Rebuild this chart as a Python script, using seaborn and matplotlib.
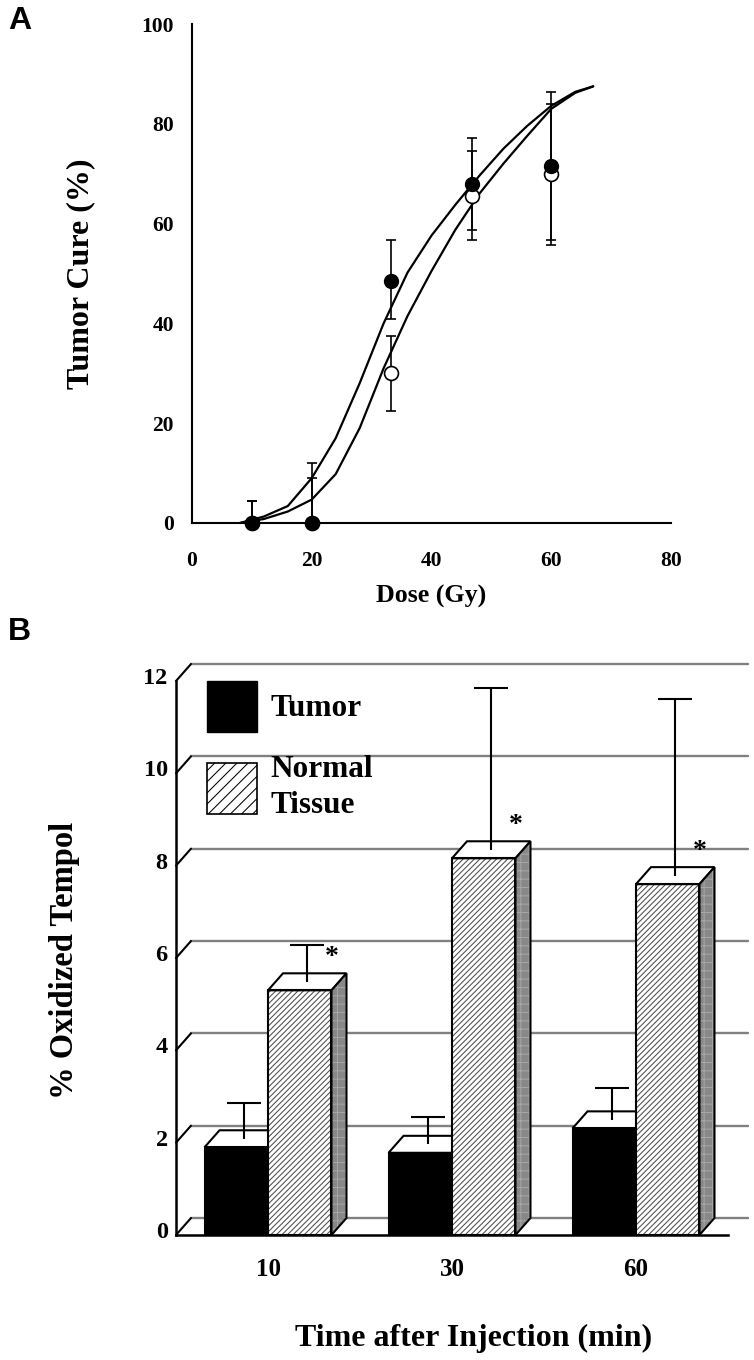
import matplotlib
matplotlib.use('Agg')
import matplotlib.pyplot as plt
from matplotlib.patches import Polygon, Rectangle, Patch
from matplotlib.ticker import MultipleLocator
from matplotlib.transforms import ScaledTranslation
import pandas as pd
import seaborn as sns

# ---------------- Panel A data ----------------
dose = [10, 20, 33.3, 46.7, 60]
cure_filled = [0, 0, 48.5, 68, 71.5]
filled_err_low = [0, 0, 7.6, 9.2, 14.8]
filled_err_high = [4.4, 12, 8.2, 9.1, 14.9]
cure_open = [0, 0, 30, 65.5, 70]
open_err_low = [0, 0, 7.5, 8.8, 14.2]
open_err_high = [4.4, 9, 7.4, 9, 14]

fit_dose = [8, 12, 16, 20, 24, 28, 32, 36, 40, 44, 48, 52, 56, 60, 64, 67]
fit_filled = [0, 1.3, 3.4, 9.0, 17.0, 28.0, 40.0, 50.2, 57.6, 63.8, 69.6, 75.0, 79.6, 83.6, 86.4, 87.5]
fit_open = [0, 0.8, 2.3, 4.7, 9.8, 19.0, 31.0, 41.5, 50.5, 58.8, 66.0, 72.0, 77.6, 83.0, 86.2, 87.5]

# ---------------- Panel B data ----------------
times = ['10', '30', '60']
groups = ['Tumor', 'Normal\nTissue']
tumor_pct = [1.9, 1.78, 2.31]
tumor_sd = [0.77, 0.6, 0.68]
normal_pct = [5.3, 8.16, 7.6]
normal_sd = [0.8, 3.5, 3.82]
yticks_b = [0, 2, 4, 6, 8, 10, 12]

sns.set_style('white')
plt.rcParams['font.family'] = ['Liberation Serif', 'DejaVu Serif']
plt.rcParams['font.weight'] = 'bold'
plt.rcParams['text.color'] = 'black'
plt.rcParams['axes.labelcolor'] = 'black'
plt.rcParams['xtick.color'] = 'black'
plt.rcParams['ytick.color'] = 'black'
plt.rcParams['hatch.linewidth'] = 0.75

W, H = 754, 1360
fig = plt.figure(figsize=(W / 100, H / 100), dpi=100)


def px_axes(l, t, r, b):
    return fig.add_axes([l / W, 1 - b / H, (r - l) / W, (b - t) / H])


axA = px_axes(192, 24, 671, 523)
axB = px_axes(176, 681, 728, 1235)

# ================= Panel A =================
sns.lineplot(x=fit_dose, y=fit_filled, sort=False, estimator=None, color='black', lw=1.6, ax=axA, zorder=2)
sns.lineplot(x=fit_dose, y=fit_open, sort=False, estimator=None, color='black', lw=1.6, ax=axA, zorder=2)

axA.errorbar(dose, cure_open, yerr=[open_err_low, open_err_high], fmt='none', ecolor='black',
             elinewidth=1.2, capsize=3.5, capthick=1.2, clip_on=False, zorder=3)
axA.errorbar(dose, cure_filled, yerr=[filled_err_low, filled_err_high], fmt='none', ecolor='black',
             elinewidth=1.2, capsize=3.5, capthick=1.2, clip_on=False, zorder=3)
sns.scatterplot(x=dose, y=cure_open, marker='o', s=100, facecolor='white', edgecolor='black',
                linewidth=1.2, ax=axA, zorder=4, clip_on=False)
sns.scatterplot(x=dose, y=cure_filled, marker='o', s=100, color='black', edgecolor='black',
                linewidth=1.0, ax=axA, zorder=5, clip_on=False)

axA.set_xlim(0, 80)
axA.set_ylim(0, 100)
axA.xaxis.set_major_locator(MultipleLocator(20))
axA.xaxis.set_minor_locator(MultipleLocator(10))
axA.yaxis.set_major_locator(MultipleLocator(20))
axA.yaxis.set_minor_locator(MultipleLocator(10))
axA.tick_params(which='both', direction='in', length=5, width=1.3, color='black')
axA.tick_params(axis='y', labelsize=15.5, pad=13)
axA.tick_params(axis='x', labelsize=15.5, pad=20.5)
for s in ['top', 'right']:
    axA.spines[s].set_visible(False)
for s in ['left', 'bottom']:
    axA.spines[s].set_linewidth(1.5)
    axA.spines[s].set_color('black')
axA.set_xlabel('Dose (Gy)', fontsize=18.7, fontweight='bold')
axA.xaxis.set_label_coords(0.5, -0.124)
axA.set_ylabel('Tumor Cure (%)', fontsize=23, fontweight='bold')
axA.yaxis.set_label_coords(-0.203, 0.5)

# ================= Panel B =================
dfB = pd.DataFrame({
    'time': times * 2,
    'group': [groups[0]] * len(times) + [groups[1]] * len(times),
    'pct': tumor_pct + normal_pct,
})
sns.barplot(data=dfB, x='time', y='pct', hue='group', order=times, hue_order=groups,
            palette=['black', 'white'], width=0.69, gap=0, errorbar=None, legend=False,
            ax=axB, zorder=2)
axB.set_xlim(-0.5, 2.5)
axB.set_ylim(0, 12)

bbox = axB.get_position()
x0l, x1l = axB.get_xlim()
y0l, y1l = axB.get_ylim()
dx = 15 * (x1l - x0l) / (bbox.width * W)
dy = 17 * (y1l - y0l) / (bbox.height * H)

for v in yticks_b:
    axB.plot([x0l + dx, x1l + 1.3 * dx], [v + dy, v + dy], color='#808080', lw=1.7, zorder=0.5, clip_on=False)
    axB.plot([x0l, x0l + dx], [v, v + dy], color='black', lw=1.5, zorder=1, clip_on=False)

for container, sds, z, is_normal in [(axB.containers[0], tumor_sd, 2, False),
                                     (axB.containers[1], normal_sd, 3, True)]:
    for bar, sd in zip(container, sds):
        x = bar.get_x()
        w = bar.get_width()
        h = bar.get_height()
        bar.set_zorder(z)
        if is_normal:
            bar.set_hatch('//////')
            bar.set_edgecolor('#4d4d4d')
            bar.set_linewidth(0)
        else:
            bar.set_edgecolor('black')
            bar.set_linewidth(1.2)
        axB.add_patch(Rectangle((x, 0), w, h, fill=False, ec='black', lw=1.5, zorder=z + 0.1))
        axB.add_patch(Polygon([(x, h), (x + w, h), (x + w + dx, h + dy), (x + dx, h + dy)],
                              closed=True, fc='white', ec='black', lw=1.5, zorder=z, clip_on=False))
        side = [(x + w, 0), (x + w + dx, dy), (x + w + dx, h + dy), (x + w, h)]
        axB.add_patch(Polygon(side, closed=True, fc='#888888', ec='#a6a6a6', lw=0, hatch='++',
                              zorder=z, clip_on=False))
        axB.add_patch(Polygon(side, closed=True, fill=False, ec='black', lw=1.5, zorder=z + 0.1,
                              clip_on=False))
        eb = axB.errorbar([x + w / 2 + dx / 2], [h + dy / 2], yerr=[[0], [sd]], fmt='none', ecolor='black',
                          elinewidth=1.5, capsize=12, capthick=1.5, zorder=6, clip_on=False)
        caps = eb.lines[1]
        if len(caps) == 2:
            low = min(caps, key=lambda c: float(c.get_ydata()[0]))
            low.set_visible(False)
        if is_normal:
            axB.text(x + w, h + 0.56, '*', ha='center', va='baseline', fontsize=20, fontweight='bold',
                     zorder=7)

for s in ['top', 'right']:
    axB.spines[s].set_visible(False)
for s in ['left', 'bottom']:
    axB.spines[s].set_linewidth(1.8)
    axB.spines[s].set_color('black')
    axB.spines[s].set_zorder(4)

axB.set_yticks(yticks_b)
axB.tick_params(axis='y', length=0, pad=6, labelsize=17.5)
axB.tick_params(axis='x', length=0, pad=16.5, labelsize=18)
lift = ScaledTranslation(0, 5 / 100, fig.dpi_scale_trans)
for lbl in axB.get_yticklabels():
    lbl.set_transform(lbl.get_transform() + lift)
axB.set_xlabel('Time after Injection (min)', fontsize=23, fontweight='bold')
axB.xaxis.set_label_coords(0.539, -0.161)
axB.set_ylabel('% Oxidized Tempol', fontsize=23.5, fontweight='bold')
axB.yaxis.set_label_coords(-0.174, 0.495)

handles = [Patch(facecolor='black', edgecolor='black'),
           Patch(facecolor='white', edgecolor='black', hatch='///', linewidth=1.2)]
leg = axB.legend(handles, groups, loc='upper left', bbox_to_anchor=(0.056, 1.0), frameon=False,
                 prop={'size': 22.5, 'weight': 'bold'}, handlelength=1.6, handleheight=2.13,
                 handletextpad=0.42, labelspacing=0.75, borderaxespad=0, borderpad=0)
leg.get_texts()[1].set_linespacing(1.3)

fig.text(8 / W, 1 - 6 / H, 'A', family='Liberation Sans', fontweight='bold', fontsize=23, va='top', ha='left')
fig.text(8 / W, 1 - 617 / H, 'B', family='Liberation Sans', fontweight='bold', fontsize=23, va='top', ha='left')

fig.savefig('out.png', dpi=100, facecolor='white')
